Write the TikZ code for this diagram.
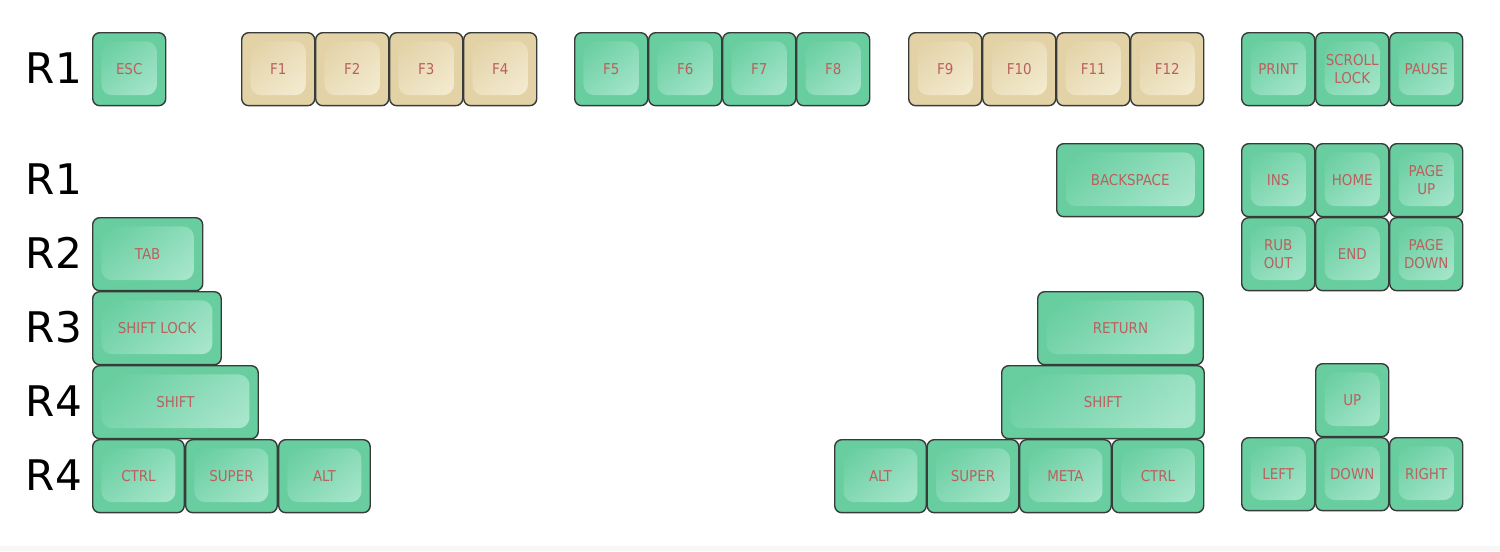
\documentclass[tikz,border=0pt]{standalone}
\usepackage{fontspec}
\setmainfont{DejaVu Sans}
\newfontfamily\capfont{DejaVu Sans Condensed}
\usetikzlibrary{positioning}

\definecolor{keyline}{RGB}{55,60,58}
\definecolor{keygreen}{RGB}{104,206,160}
\definecolor{keyhi}{RGB}{168,230,204}
\definecolor{keybeige}{RGB}{226,210,166}
\definecolor{keybeigehi}{RGB}{244,236,210}
\definecolor{captext}{RGB}{186,96,94}

\tikzset{
  keycap/.style={draw=keyline, line width=0.8pt, rounded corners=4pt,
    anchor=north west, inner sep=0pt, align=center,
    minimum height=1.46cm, minimum width={(#1*74-1)*0.02cm},
    fill=keygreen, text=captext, font=\capfont\fontsize{8.5}{10.2}\selectfont,
    path picture={
      \shade[rounded corners=6pt, top color=keygreen, bottom color=keyhi,
        shading angle=40]
        ([shift={(5pt,-5pt)}]path picture bounding box.north west) rectangle
        ([shift={(-5pt,6pt)}]path picture bounding box.south east);
    }},
  keycap/.default=1,
  fkey/.style={keycap, fill=keybeige,
    path picture={
      \shade[rounded corners=6pt, top color=keybeige, bottom color=keybeigehi,
        shading angle=40]
        ([shift={(5pt,-5pt)}]path picture bounding box.north west) rectangle
        ([shift={(-5pt,6pt)}]path picture bounding box.south east);
    }},
  rowlabel/.style={font=\fontsize{24}{28}\selectfont, anchor=center}
}

\begin{document}
\begin{tikzpicture}[x={(0.02cm,0)}, y={(0,-0.02cm)}]
  \useasboundingbox (0,0) rectangle (1500,551);
  \fill[black!3] (0,546) rectangle (1500,551);

  % Zeilenbeschriftung
  \node[rowlabel] (r0) at (54,68) {R1};
  \node[rowlabel] (r1) at (54,179) {R1};
  \node[rowlabel] (r2) at (54,253) {R2};
  \node[rowlabel] (r3) at (54,327) {R3};
  \node[rowlabel] (r4) at (54,401) {R4};
  \node[rowlabel] (r5) at (54,475) {R4};

  % Funktionsreihe
  \node[keycap] (esc) at (92,32) {ESC};
  \foreach \n/\x in {1/241,2/315,3/389,4/463,9/908,10/982,11/1056,12/1130}
    \node[fkey] (f\n) at (\x,32) {F\n};
  \foreach \n/\x in {5/574,6/648,7/722,8/796}
    \node[keycap] (f\n) at (\x,32) {F\n};
  \node[keycap] (print) at (1241,32) {PRINT};
  \node[keycap] (scroll) at (1315,32) {SCROLL\\LOCK};
  \node[keycap] (pause) at (1389,32) {PAUSE};

  % Hauptblock
  \node[keycap=2] (bksp) at (1056,143) {BACKSPACE};
  \node[keycap=1.5] (tab) at (92,217) {TAB};
  \node[keycap=1.75] (shiftlock) at (92,291) {SHIFT LOCK};
  \node[keycap=2.25] (return) at (1037,291) {RETURN};
  \node[keycap=2.25] (lshift) at (92,365) {SHIFT};
  \node[keycap=2.75] (rshift) at (1001,365) {SHIFT};

  % Unterste Reihe
  \node[keycap=1.25] (lctrl) at (92,439) {CTRL};
  \node[keycap=1.25] (lsuper) at (185,439) {SUPER};
  \node[keycap=1.25] (lalt) at (278,439) {ALT};
  \node[keycap=1.25] (ralt) at (834,439) {ALT};
  \node[keycap=1.25] (rsuper) at (926.5,439) {SUPER};
  \node[keycap=1.25] (meta) at (1019,439) {META};
  \node[keycap=1.25] (rctrl) at (1111.5,439) {CTRL};

  % Navigationsblock
  \node[keycap] (ins) at (1241,143) {INS};
  \node[keycap] (home) at (1315,143) {HOME};
  \node[keycap] (pgup) at (1389,143) {PAGE\\UP};
  \node[keycap] (rubout) at (1241,217) {RUB\\OUT};
  \node[keycap] (end) at (1315,217) {END};
  \node[keycap] (pgdn) at (1389,217) {PAGE\\DOWN};

  % Pfeiltasten
  \node[keycap] (up) at (1315,363) {UP};
  \node[keycap] (left) at (1241,437) {LEFT};
  \node[keycap] (down) at (1315,437) {DOWN};
  \node[keycap] (right) at (1389,437) {RIGHT};
\end{tikzpicture}
\end{document}
